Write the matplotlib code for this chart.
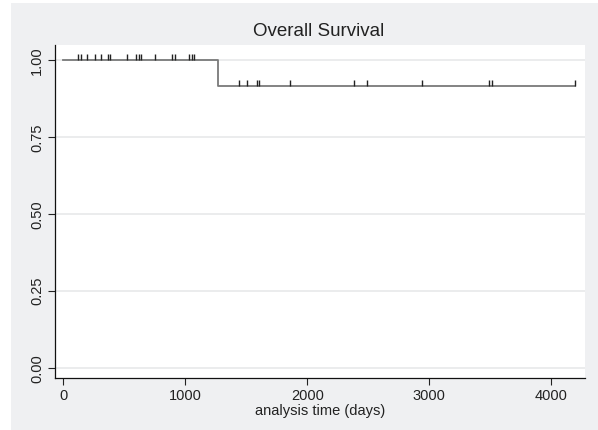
import matplotlib
matplotlib.use("Agg")
import matplotlib.pyplot as plt
import numpy as np

plt.rcParams['font.family'] = ['Liberation Sans', 'DejaVu Sans']

# Kaplan-Meier step data
step_times = [0, 1270, 4196]
step_surv = [1.0, 0.9167, 0.9167]
# censored times
censor_times = [122, 142, 196, 262, 309, 364, 385, 525, 593, 620, 636, 753, 887, 916,
                1031, 1051, 1072, 1442, 1507, 1584, 1606, 1860, 2384, 2491, 2942,
                3486, 3516, 4196]
yticks = [0.0, 0.25, 0.5, 0.75, 1.0]
xticks = [0, 1000, 2000, 3000, 4000]

W, H = 598, 430
fig = plt.figure(figsize=(W/100, H/100), dpi=100)
fig.patch.set_facecolor('white')
# gray background panel
bg = fig.add_axes([11/W, 0, 1 - 11/W, 1 - 3/H])
bg.set_facecolor('#eff0f2')
bg.set_xticks([]); bg.set_yticks([])
for s in bg.spines.values():
    s.set_visible(False)
bg.set_zorder(-10)

ax = fig.add_axes([55/W, 1 - 378/H, (585-55)/W, (378-45)/H])
ax.set_facecolor('white')
ax.step(step_times, step_surv, where='post', color='#7a7a7a', lw=1.3, zorder=3)

def surv_at(t):
    idx = np.searchsorted(step_times, t, side='right') - 1
    return step_surv[idx]

ax.set_xlim(-68, 4276)
ax.set_ylim(-0.032, 1.05)
ylo, yhi = ax.get_ylim()
tick_h = 6 / 333 * (yhi - ylo)
for t in censor_times:
    s = surv_at(t)
    ax.vlines(t, s, s + tick_h, color='#222222', lw=1.0, zorder=4)

ax.set_yticks(yticks)
ax.set_yticklabels([f"{v:.2f}" for v in yticks], rotation=90, va='center')
ax.set_xticks(xticks)
ax.set_xticklabels([str(v) for v in xticks])
ax.tick_params(axis='both', labelsize=10.5, color='#222222', length=5, width=0.8,
               labelcolor='#222222', pad=3)
ax.grid(axis='y', color='#e8e9ea', lw=1.2)
ax.set_axisbelow(True)
for side in ['top', 'right']:
    ax.spines[side].set_visible(False)
for side in ['left', 'bottom']:
    ax.spines[side].set_color('#111111')
    ax.spines[side].set_linewidth(0.9)

ax.set_xlabel('analysis time (days)', fontsize=10.5, color='#222222', labelpad=1)
fig.text((246+392)/2/W, 1 - 32/H, 'Overall Survival', ha='center', va='center',
         fontsize=13.5, color='#222222')

fig.savefig('out.png', dpi=100, facecolor='white')
